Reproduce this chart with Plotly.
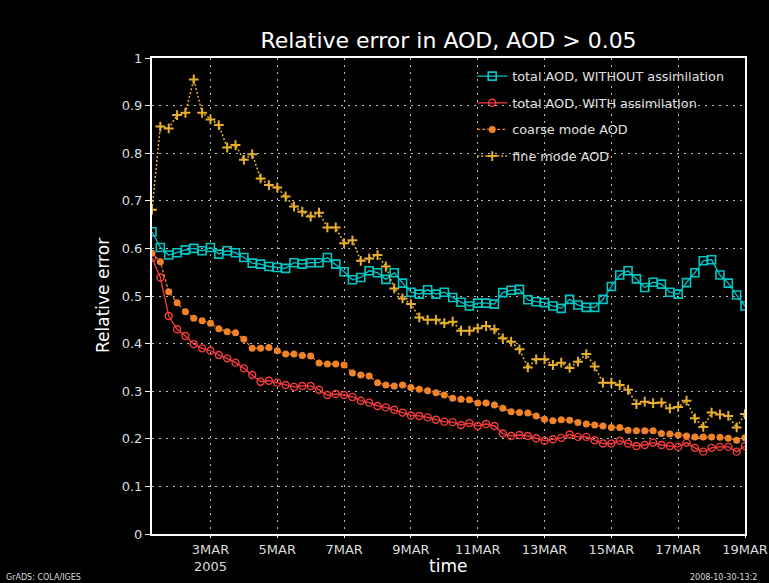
import plotly.graph_objects as go
import pandas as pd

# 6-hourly times, 1 MAR 2005 06Z .. 19 MAR 2005 00Z
times = pd.date_range("2005-03-01 06:00", periods=72, freq="6h")

total_without = [0.635, 0.602, 0.586, 0.591, 0.597, 0.600, 0.595, 0.602, 0.588, 0.595,
                 0.591, 0.581, 0.569, 0.567, 0.562, 0.560, 0.558, 0.570, 0.567, 0.570,
                 0.570, 0.581, 0.567, 0.551, 0.534, 0.539, 0.553, 0.549, 0.535, 0.549,
                 0.527, 0.508, 0.504, 0.513, 0.504, 0.508, 0.497, 0.487, 0.479, 0.485,
                 0.485, 0.483, 0.507, 0.512, 0.514, 0.492, 0.488, 0.486, 0.479, 0.474,
                 0.493, 0.481, 0.476, 0.476, 0.493, 0.520, 0.544, 0.553, 0.536, 0.518,
                 0.529, 0.525, 0.508, 0.504, 0.528, 0.549, 0.574, 0.576, 0.544, 0.527,
                 0.502, 0.479]

total_with = [0.580, 0.539, 0.458, 0.430, 0.416, 0.399, 0.390, 0.385, 0.376, 0.369,
              0.360, 0.348, 0.334, 0.320, 0.322, 0.318, 0.313, 0.309, 0.311, 0.311,
              0.303, 0.292, 0.294, 0.292, 0.288, 0.280, 0.276, 0.269, 0.266, 0.261,
              0.255, 0.249, 0.248, 0.245, 0.240, 0.236, 0.235, 0.229, 0.233, 0.227,
              0.231, 0.227, 0.211, 0.206, 0.208, 0.206, 0.201, 0.196, 0.199, 0.202,
              0.209, 0.204, 0.204, 0.197, 0.190, 0.190, 0.196, 0.190, 0.185, 0.187,
              0.192, 0.187, 0.185, 0.183, 0.192, 0.181, 0.173, 0.181, 0.183, 0.183,
              0.173, 0.185]

coarse_aod = [0.590, 0.572, 0.509, 0.486, 0.467, 0.453, 0.448, 0.443, 0.431, 0.425,
              0.423, 0.409, 0.390, 0.390, 0.392, 0.385, 0.378, 0.378, 0.375, 0.374,
              0.359, 0.357, 0.357, 0.355, 0.338, 0.334, 0.332, 0.318, 0.313, 0.311,
              0.313, 0.308, 0.304, 0.301, 0.297, 0.292, 0.285, 0.283, 0.282, 0.275,
              0.275, 0.271, 0.264, 0.257, 0.255, 0.254, 0.248, 0.241, 0.238, 0.240,
              0.239, 0.234, 0.231, 0.229, 0.227, 0.224, 0.224, 0.218, 0.217, 0.217,
              0.217, 0.211, 0.210, 0.208, 0.206, 0.204, 0.204, 0.204, 0.203, 0.201,
              0.197, 0.202]

fine_aod = [0.681, 0.856, 0.852, 0.880, 0.885, 0.955, 0.885, 0.871, 0.859, 0.812,
            0.817, 0.786, 0.798, 0.747, 0.733, 0.728, 0.709, 0.688, 0.677, 0.667,
            0.675, 0.644, 0.644, 0.611, 0.617, 0.574, 0.579, 0.586, 0.562, 0.516,
            0.495, 0.483, 0.455, 0.450, 0.450, 0.443, 0.446, 0.427, 0.427, 0.432,
            0.437, 0.430, 0.411, 0.404, 0.388, 0.350, 0.367, 0.367, 0.355, 0.360,
            0.349, 0.362, 0.378, 0.352, 0.318, 0.318, 0.313, 0.303, 0.273, 0.278,
            0.275, 0.276, 0.264, 0.267, 0.280, 0.243, 0.225, 0.255, 0.251, 0.248,
            0.224, 0.252]

tick_dates = ["2005-03-03", "2005-03-05", "2005-03-07", "2005-03-09", "2005-03-11",
              "2005-03-13", "2005-03-15", "2005-03-17", "2005-03-19"]
tick_text = ["3MAR<br>2005", "5MAR", "7MAR", "9MAR", "11MAR", "13MAR", "15MAR",
             "17MAR", "19MAR"]
y_ticks = [0, 0.1, 0.2, 0.3, 0.4, 0.5, 0.6, 0.7, 0.8, 0.9, 1]
y_text = ["0", "0.1", "0.2", "0.3", "0.4", "0.5", "0.6", "0.7", "0.8", "0.9", "1"]

FONT = "DejaVu Sans"
CYAN = "rgb(0,200,200)"
RED = "rgb(250,60,60)"
ORANGE = "rgb(240,130,40)"
GOLD = "rgb(230,175,45)"

fig = go.Figure()
fig.add_trace(go.Scatter(
    x=times, y=total_without, mode="lines+markers", name="total AOD, WITHOUT assimilation",
    legendgroup="a",
    line=dict(color=CYAN, width=1.3),
    marker=dict(symbol="square-open", size=8, color=CYAN, line=dict(width=1.6, color=CYAN))))
fig.add_trace(go.Scatter(
    x=times, y=total_with, mode="lines+markers", name="total AOD, WITH assimilation",
    legendgroup="b",
    line=dict(color=RED, width=1.3),
    marker=dict(symbol="circle-open", size=7, color=RED, line=dict(width=1.4, color=RED))))
fig.add_trace(go.Scatter(
    x=times, y=coarse_aod, mode="lines+markers", name="coarse mode AOD",
    legendgroup="c",
    line=dict(color=ORANGE, width=1.3, dash="3px,2px"),
    marker=dict(symbol="circle", size=7, color=ORANGE)))
fig.add_trace(go.Scatter(
    x=times, y=fine_aod, mode="lines+markers", name="fine mode AOD",
    legendgroup="d",
    line=dict(color=GOLD, width=1.5, dash="2px,2px"),
    marker=dict(symbol="cross-thin-open", size=7, color=GOLD, line=dict(width=2, color=GOLD))))

axis_common = dict(
    showline=True, linecolor="white", linewidth=2, mirror=True,
    showgrid=True, gridcolor="rgb(190,190,190)", gridwidth=1, griddash="2px,5px",
    ticks="outside", tickcolor="white", tickwidth=1,
    tickfont=dict(family=FONT, size=13, color="rgb(220,220,220)"),
    zeroline=False, automargin=False,
)

fig.update_layout(
    width=769, height=583,
    margin=dict(l=152, r=24, t=58, b=49),
    paper_bgcolor="black", plot_bgcolor="black",
    title=dict(text="Relative error in AOD, AOD > 0.05", x=0.5, xref="paper",
               xanchor="center", y=1 - 40 / 583, yanchor="middle",
               font=dict(family=FONT, size=22, color="white")),
    xaxis=dict(range=["2005-03-01 06:00", "2005-03-19 00:00"], tickmode="array",
               tickvals=tick_dates, ticktext=tick_text, ticklen=2, **axis_common),
    yaxis=dict(range=[0, 1], tickmode="array", tickvals=y_ticks, ticktext=y_text,
               ticklen=5, **axis_common),
    legend=dict(x=0.54, y=0.993, xanchor="left", yanchor="top",
                bgcolor="rgba(0,0,0,0)", borderwidth=0, tracegroupgap=7,
                font=dict(family=FONT, size=12.8, color="rgb(225,225,225)")),
    showlegend=True,
)

fig.add_annotation(text="Relative error", xref="paper", yref="paper",
                   x=(103 - 152) / 593, y=0.5, textangle=-90, showarrow=False,
                   xanchor="center", yanchor="middle",
                   font=dict(family=FONT, size=17, color="white"))
fig.add_annotation(text="time", xref="paper", yref="paper",
                   x=(448 - 152) / 593, y=(534 - 566) / 476, showarrow=False,
                   xanchor="center", yanchor="middle",
                   font=dict(family=FONT, size=17, color="white"))
fig.add_annotation(text="GrADS: COLA/IGES", xref="paper", yref="paper",
                   x=(4 - 152) / 593, y=(534 - 577) / 476, showarrow=False,
                   xanchor="left", yanchor="middle",
                   font=dict(family=FONT, size=8, color="rgb(220,220,220)"))
fig.add_annotation(text="2008-10-30-13:2", xref="paper", yref="paper",
                   x=(688 - 152) / 593, y=(534 - 577) / 476, showarrow=False,
                   xanchor="left", yanchor="middle",
                   font=dict(family=FONT, size=8, color="rgb(220,220,220)"))

fig.write_html("out.html")
